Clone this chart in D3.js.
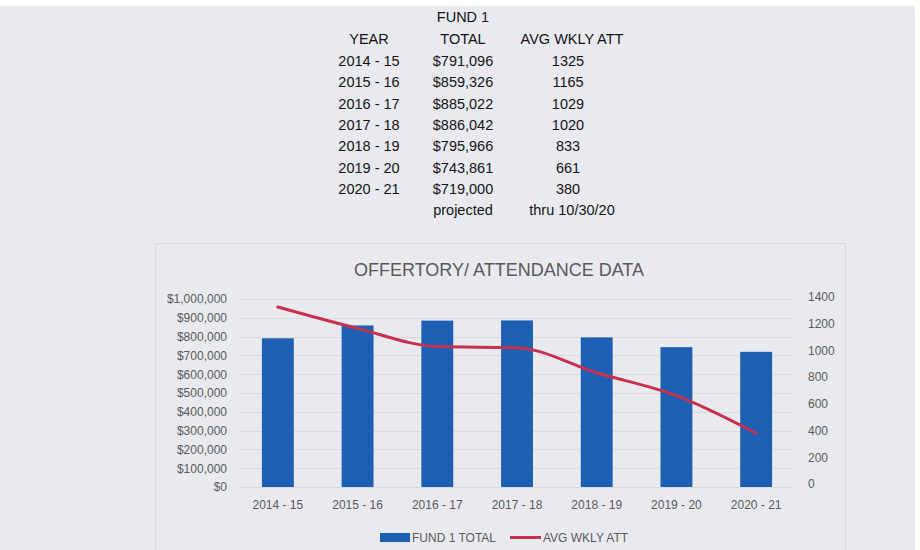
<!DOCTYPE html>
<html><head><meta charset="utf-8">
<script src="https://cdn.jsdelivr.net/npm/d3@7/dist/d3.min.js"></script>
<style>
html,body{margin:0;padding:0;background:#fff;}
svg{display:block;}
</style></head>
<body>
<svg id="c" width="920" height="550"></svg>
<script>
// ---- data ----
const years = ["2014 - 15","2015 - 16","2016 - 17","2017 - 18","2018 - 19","2019 - 20","2020 - 21"];
const fundTotals = [791096, 859326, 885022, 886042, 795966, 743861, 719000];
const fundTotalLabels = ["$791,096","$859,326","$885,022","$886,042","$795,966","$743,861","$719,000"];
const avgWklyAtt = [1325, 1165, 1029, 1020, 833, 661, 380];
const leftTicks = [0,100000,200000,300000,400000,500000,600000,700000,800000,900000,1000000];
const rightTicks = [0,200,400,600,800,1000,1200,1400];
const seriesNames = ["FUND 1 TOTAL","AVG WKLY ATT"];
const chartTitle = "OFFERTORY/ ATTENDANCE DATA";

const svg = d3.select("#c");
const FONT = "'Liberation Sans', Arial, sans-serif";
const barColor = "#1d5fb3", lineColor = "#c9304f", textGrey = "#5a5a5a";

// page background (scanned paper)
svg.append("rect").attr("x",0).attr("y",6).attr("width",915).attr("height",544).attr("fill","#e8eaef");

// ---- table at top ----
const tbl = svg.append("g").attr("font-family",FONT).attr("font-size",14.5).attr("fill","#141416").attr("text-anchor","middle");
const colX = [369, 463, 568];
const rowY = d3.scaleLinear().domain([0,1]).range([66, 87.3]);
tbl.append("text").attr("x",colX[1]).attr("y",22).text("FUND 1");
tbl.append("text").attr("x",colX[0]).attr("y",44).text("YEAR");
tbl.append("text").attr("x",colX[1]).attr("y",44).text("TOTAL");
tbl.append("text").attr("x",572).attr("y",44).text("AVG WKLY ATT");
years.forEach((y,i)=>{
  tbl.append("text").attr("x",colX[0]).attr("y",rowY(i)).text(y);
  tbl.append("text").attr("x",colX[1]).attr("y",rowY(i)).text(fundTotalLabels[i]);
  tbl.append("text").attr("x",colX[2]).attr("y",rowY(i)).text(avgWklyAtt[i]);
});
tbl.append("text").attr("x",colX[1]).attr("y",rowY(7)).text("projected");
tbl.append("text").attr("x",572).attr("y",rowY(7)).text("thru 10/30/20");

// ---- chart box ----
svg.append("rect").attr("x",155.5).attr("y",243.5).attr("width",690).attr("height",320)
  .attr("fill","none").attr("stroke","#d6d8dc");

svg.append("text").attr("x",499).attr("y",276).attr("text-anchor","middle")
  .attr("font-family",FONT).attr("font-size",18).attr("fill",textGrey).text(chartTitle);

const x = d3.scaleBand().domain(years).range([238,796]).paddingInner(0.6).paddingOuter(0.3);
const yL = d3.scaleLinear().domain([0,1000000]).range([487,299]);
const yR = d3.scaleLinear().domain([0,1400]).range([484,297]);

// gridlines
svg.append("g").selectAll("line").data(leftTicks).join("line")
  .attr("x1",240).attr("x2",793).attr("y1",d=>Math.round(yL(d))+0.5).attr("y2",d=>Math.round(yL(d))+0.5)
  .attr("stroke","#d8dade").attr("stroke-width",1);

// left axis
const axL = svg.append("g").attr("transform","translate(240,0)")
  .call(d3.axisLeft(yL).tickValues(leftTicks).tickSize(0).tickPadding(13).tickFormat(d=>"$"+d3.format(",")(d)));
axL.select(".domain").remove();
axL.selectAll("text").attr("font-family",FONT).attr("font-size",12).attr("fill",textGrey);

// right axis
const axR = svg.append("g").attr("transform","translate(796,0)")
  .call(d3.axisRight(yR).tickValues(rightTicks).tickSize(0).tickPadding(12).tickFormat(d3.format("d")));
axR.select(".domain").remove();
axR.selectAll("text").attr("font-family",FONT).attr("font-size",12).attr("fill",textGrey);

// x axis
const axX = svg.append("g").attr("transform","translate(0,487)")
  .call(d3.axisBottom(x).tickSize(0).tickPadding(13));
axX.select(".domain").remove();
axX.selectAll("text").attr("font-family",FONT).attr("font-size",12).attr("fill",textGrey);

// bars
svg.append("g").selectAll("rect").data(years).join("rect")
  .attr("x",d=>x(d)).attr("width",x.bandwidth())
  .attr("y",(d,i)=>yL(fundTotals[i])).attr("height",(d,i)=>yL(0)-yL(fundTotals[i]))
  .attr("fill",barColor);

// line
const line = d3.line().x((d,i)=>x(years[i])+x.bandwidth()/2).y(d=>yR(d)).curve(d3.curveMonotoneX);
svg.append("path").datum(avgWklyAtt).attr("d",line).attr("fill","none")
  .attr("stroke",lineColor).attr("stroke-width",3).attr("stroke-linecap","round");

// legend
const lg = svg.append("g").attr("font-family",FONT).attr("font-size",12).attr("fill",textGrey);
lg.append("rect").attr("x",380).attr("y",533).attr("width",30).attr("height",9).attr("fill",barColor);
lg.append("text").attr("x",412).attr("y",542).text(seriesNames[0]);
lg.append("line").attr("x1",510).attr("x2",541).attr("y1",537.5).attr("y2",537.5).attr("stroke",lineColor).attr("stroke-width",3);
lg.append("text").attr("x",543).attr("y",542).text(seriesNames[1]);
</script>
</body></html>
